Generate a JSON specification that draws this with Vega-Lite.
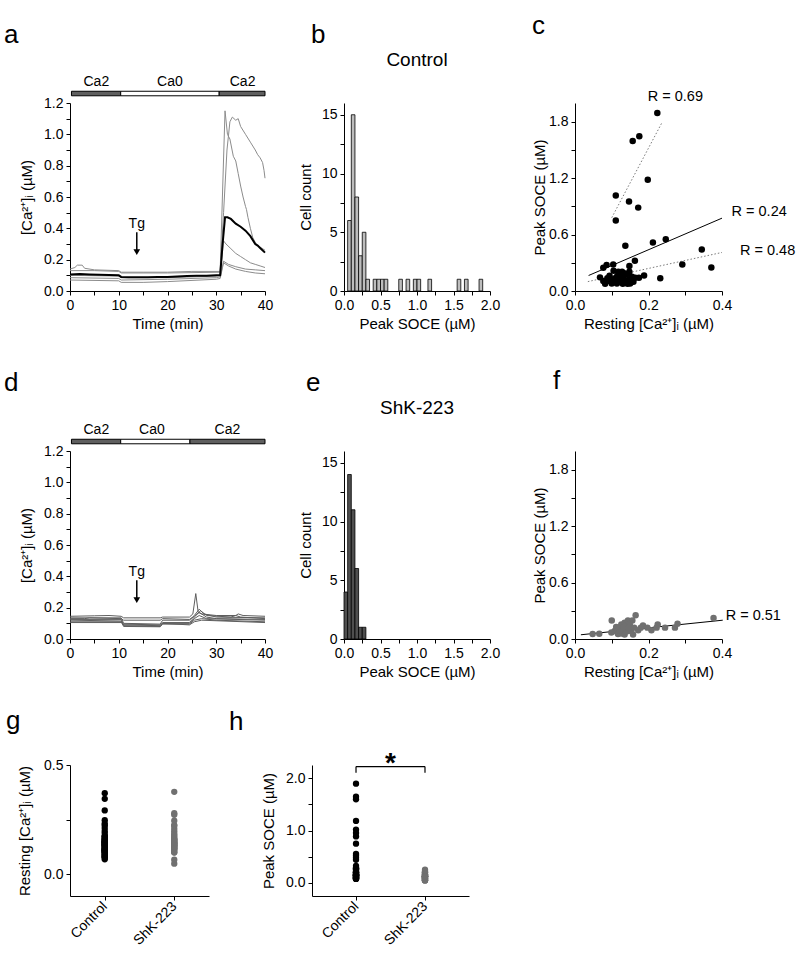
{
  "$schema": "https://vega.github.io/schema/vega-lite/v6.json",
  "padding": {"left": 4, "top": 13, "right": 0, "bottom": 0},
  "background": "#ffffff",
  "config": {
    "view": {"stroke": null},
    "font": "Liberation Sans",
    "axis": {"domainColor": "#000000", "tickColor": "#000000", "labelColor": "#000000", "titleColor": "#000000", "labelFont": "Liberation Sans", "titleFont": "Liberation Sans", "labelFontSize": 14, "titleFontSize": 15, "titleFontWeight": "normal", "grid": false, "tickSize": 4, "labelPadding": 3, "titlePadding": 4, "labelOverlap": false, "labelFlush": false, "domainWidth": 1, "tickWidth": 1},
    "title": {"font": "Liberation Sans", "fontSize": 26, "fontWeight": "normal", "anchor": "start", "frame": "group", "color": "#000000", "baseline": "alphabetic"},
    "text": {"font": "Liberation Sans", "color": "#000000"}
  },
  "datasets": {
    "tracesA": [
      {"tr":"mean","t":0,"v":0.105},{"tr":"mean","t":2,"v":0.108},{"tr":"mean","t":4,"v":0.105},{"tr":"mean","t":6,"v":0.103},{"tr":"mean","t":8,"v":0.102},{"tr":"mean","t":10,"v":0.1},{"tr":"mean","t":10.5,"v":0.09},{"tr":"mean","t":12,"v":0.088},{"tr":"mean","t":14,"v":0.088},{"tr":"mean","t":16,"v":0.087},{"tr":"mean","t":18,"v":0.089},{"tr":"mean","t":20,"v":0.09},{"tr":"mean","t":22,"v":0.093},{"tr":"mean","t":24,"v":0.095},{"tr":"mean","t":26,"v":0.097},{"tr":"mean","t":28,"v":0.098},{"tr":"mean","t":30,"v":0.1},{"tr":"mean","t":30.8,"v":0.1},{"tr":"mean","t":31.3,"v":0.3},{"tr":"mean","t":31.8,"v":0.47},{"tr":"mean","t":32.3,"v":0.47},{"tr":"mean","t":33,"v":0.46},{"tr":"mean","t":34,"v":0.43},{"tr":"mean","t":35,"v":0.41},{"tr":"mean","t":36,"v":0.385},{"tr":"mean","t":37,"v":0.35},{"tr":"mean","t":38,"v":0.3},{"tr":"mean","t":38.5,"v":0.29},{"tr":"mean","t":39,"v":0.275},{"tr":"mean","t":40,"v":0.245},
      {"tr":"g1","t":0,"v":0.14},{"tr":"g1","t":1,"v":0.15},{"tr":"g1","t":1.5,"v":0.165},{"tr":"g1","t":2.5,"v":0.165},{"tr":"g1","t":3,"v":0.145},{"tr":"g1","t":5,"v":0.135},{"tr":"g1","t":10,"v":0.13},{"tr":"g1","t":10.5,"v":0.12},{"tr":"g1","t":15,"v":0.12},{"tr":"g1","t":20,"v":0.12},{"tr":"g1","t":25,"v":0.125},{"tr":"g1","t":30.8,"v":0.125},{"tr":"g1","t":31.8,"v":1.15},{"tr":"g1","t":32.3,"v":1.0},{"tr":"g1","t":32.8,"v":0.97},{"tr":"g1","t":33.5,"v":0.86},{"tr":"g1","t":34,"v":0.83},{"tr":"g1","t":34.5,"v":0.75},{"tr":"g1","t":35,"v":0.67},{"tr":"g1","t":35.5,"v":0.6},{"tr":"g1","t":36,"v":0.54},{"tr":"g1","t":36.2,"v":0.52},{"tr":"g1","t":36.5,"v":0.47},{"tr":"g1","t":37,"v":0.4},{"tr":"g1","t":37.5,"v":0.34},{"tr":"g1","t":38,"v":0.31},{"tr":"g1","t":38.5,"v":0.29},{"tr":"g1","t":39,"v":0.28},{"tr":"g1","t":40,"v":0.26},
      {"tr":"g2","t":0,"v":0.13},{"tr":"g2","t":5,"v":0.13},{"tr":"g2","t":10,"v":0.125},{"tr":"g2","t":10.5,"v":0.115},{"tr":"g2","t":20,"v":0.115},{"tr":"g2","t":30.8,"v":0.12},{"tr":"g2","t":31.5,"v":0.5},{"tr":"g2","t":32.2,"v":0.9},{"tr":"g2","t":32.8,"v":1.08},{"tr":"g2","t":33.3,"v":1.11},{"tr":"g2","t":34,"v":1.09},{"tr":"g2","t":34.5,"v":1.1},{"tr":"g2","t":35,"v":1.05},{"tr":"g2","t":36,"v":1.0},{"tr":"g2","t":37,"v":0.95},{"tr":"g2","t":38,"v":0.9},{"tr":"g2","t":38.5,"v":0.87},{"tr":"g2","t":39,"v":0.85},{"tr":"g2","t":39.5,"v":0.82},{"tr":"g2","t":39.8,"v":0.77},{"tr":"g2","t":40,"v":0.72},
      {"tr":"g3","t":0,"v":0.1},{"tr":"g3","t":10,"v":0.095},{"tr":"g3","t":10.5,"v":0.085},{"tr":"g3","t":20,"v":0.085},{"tr":"g3","t":30,"v":0.095},{"tr":"g3","t":30.8,"v":0.1},{"tr":"g3","t":31.5,"v":0.32},{"tr":"g3","t":32,"v":0.3},{"tr":"g3","t":33,"v":0.27},{"tr":"g3","t":34,"v":0.24},{"tr":"g3","t":35,"v":0.22},{"tr":"g3","t":36,"v":0.2},{"tr":"g3","t":37,"v":0.18},{"tr":"g3","t":38,"v":0.17},{"tr":"g3","t":39,"v":0.16},{"tr":"g3","t":40,"v":0.15},
      {"tr":"g4","t":0,"v":0.085},{"tr":"g4","t":10,"v":0.08},{"tr":"g4","t":10.5,"v":0.07},{"tr":"g4","t":20,"v":0.075},{"tr":"g4","t":30,"v":0.085},{"tr":"g4","t":30.8,"v":0.09},{"tr":"g4","t":31.5,"v":0.19},{"tr":"g4","t":32.5,"v":0.17},{"tr":"g4","t":34,"v":0.155},{"tr":"g4","t":36,"v":0.14},{"tr":"g4","t":38,"v":0.135},{"tr":"g4","t":40,"v":0.13},
      {"tr":"g5","t":0,"v":0.07},{"tr":"g5","t":10,"v":0.065},{"tr":"g5","t":10.5,"v":0.055},{"tr":"g5","t":15,"v":0.055},{"tr":"g5","t":20,"v":0.06},{"tr":"g5","t":30,"v":0.075},{"tr":"g5","t":30.8,"v":0.08},{"tr":"g5","t":31.5,"v":0.18},{"tr":"g5","t":32.5,"v":0.16},{"tr":"g5","t":34,"v":0.14},{"tr":"g5","t":36,"v":0.125},{"tr":"g5","t":38,"v":0.115},{"tr":"g5","t":40,"v":0.11}
    ],
    "tracesD": [
      {"tr":"d1","t":0,"v":0.145},{"tr":"d1","t":5,"v":0.148},{"tr":"d1","t":8,"v":0.15},{"tr":"d1","t":10.5,"v":0.145},{"tr":"d1","t":11,"v":0.135},{"tr":"d1","t":18.5,"v":0.135},{"tr":"d1","t":19,"v":0.14},{"tr":"d1","t":24.5,"v":0.14},{"tr":"d1","t":25.2,"v":0.16},{"tr":"d1","t":25.8,"v":0.29},{"tr":"d1","t":26.3,"v":0.17},{"tr":"d1","t":27,"v":0.16},{"tr":"d1","t":30,"v":0.15},{"tr":"d1","t":34,"v":0.15},{"tr":"d1","t":34.5,"v":0.16},{"tr":"d1","t":35.5,"v":0.15},{"tr":"d1","t":40,"v":0.145},
      {"tr":"d2","t":0,"v":0.135},{"tr":"d2","t":10.5,"v":0.135},{"tr":"d2","t":11,"v":0.1},{"tr":"d2","t":18.5,"v":0.095},{"tr":"d2","t":19,"v":0.12},{"tr":"d2","t":24.5,"v":0.12},{"tr":"d2","t":25.5,"v":0.15},{"tr":"d2","t":26.5,"v":0.19},{"tr":"d2","t":27.5,"v":0.16},{"tr":"d2","t":30,"v":0.14},{"tr":"d2","t":40,"v":0.135},
      {"tr":"d3","t":0,"v":0.125},{"tr":"d3","t":10.5,"v":0.125},{"tr":"d3","t":11,"v":0.09},{"tr":"d3","t":18.5,"v":0.085},{"tr":"d3","t":19,"v":0.105},{"tr":"d3","t":24.5,"v":0.105},{"tr":"d3","t":25.5,"v":0.14},{"tr":"d3","t":26.5,"v":0.17},{"tr":"d3","t":28,"v":0.14},{"tr":"d3","t":30,"v":0.13},{"tr":"d3","t":40,"v":0.125},
      {"tr":"d4","t":0,"v":0.12},{"tr":"d4","t":10.5,"v":0.115},{"tr":"d4","t":11,"v":0.085},{"tr":"d4","t":18.5,"v":0.08},{"tr":"d4","t":19,"v":0.1},{"tr":"d4","t":24.5,"v":0.1},{"tr":"d4","t":25.5,"v":0.13},{"tr":"d4","t":26.5,"v":0.15},{"tr":"d4","t":28,"v":0.13},{"tr":"d4","t":40,"v":0.12},
      {"tr":"d5","t":0,"v":0.11},{"tr":"d5","t":10.5,"v":0.11},{"tr":"d5","t":11,"v":0.08},{"tr":"d5","t":18.5,"v":0.078},{"tr":"d5","t":19,"v":0.095},{"tr":"d5","t":24.5,"v":0.095},{"tr":"d5","t":25.5,"v":0.12},{"tr":"d5","t":27,"v":0.13},{"tr":"d5","t":30,"v":0.12},{"tr":"d5","t":40,"v":0.11},
      {"tr":"d6","t":0,"v":0.105},{"tr":"d6","t":10.5,"v":0.105},{"tr":"d6","t":11,"v":0.095},{"tr":"d6","t":18.5,"v":0.09},{"tr":"d6","t":19,"v":0.1},{"tr":"d6","t":24.5,"v":0.09},{"tr":"d6","t":25.5,"v":0.11},{"tr":"d6","t":27,"v":0.12},{"tr":"d6","t":40,"v":0.105},
      {"tr":"d7","t":0,"v":0.13},{"tr":"d7","t":3,"v":0.13},{"tr":"d7","t":4,"v":0.135},{"tr":"d7","t":10.5,"v":0.13},{"tr":"d7","t":11,"v":0.12},{"tr":"d7","t":18.5,"v":0.12},{"tr":"d7","t":19,"v":0.13},{"tr":"d7","t":24.5,"v":0.125},{"tr":"d7","t":25.5,"v":0.145},{"tr":"d7","t":26.8,"v":0.18},{"tr":"d7","t":28,"v":0.15},{"tr":"d7","t":33,"v":0.14},{"tr":"d7","t":34,"v":0.15},{"tr":"d7","t":35,"v":0.14},{"tr":"d7","t":40,"v":0.13}
    ],
    "caA": [{"sol":"Ca2","s":0.3,"e":10.4},{"sol":"Ca0","s":10.4,"e":30.6},{"sol":"Ca2","s":30.6,"e":40}],
    "caLabA": [{"lab":"Ca2","t":5.4},{"lab":"Ca0","t":20.5},{"lab":"Ca2","t":35.4}],
    "caD": [{"sol":"Ca2","s":0.3,"e":10.4},{"sol":"Ca0","s":10.4,"e":24.6},{"sol":"Ca2","s":24.6,"e":40}],
    "caLabD": [{"lab":"Ca2","t":5.4},{"lab":"Ca0","t":16.8},{"lab":"Ca2","t":32.3}],
    "tg": [{"lab":"Tg","t":13.7}],
    "histB": [
      {"b0":0.05,"b1":0.1,"n":6},{"b0":0.1,"b1":0.15,"n":15},{"b0":0.15,"b1":0.2,"n":8},{"b0":0.2,"b1":0.25,"n":3},{"b0":0.25,"b1":0.3,"n":5},{"b0":0.3,"b1":0.35,"n":1},{"b0":0.4,"b1":0.45,"n":1},{"b0":0.45,"b1":0.5,"n":1},{"b0":0.5,"b1":0.55,"n":1},{"b0":0.55,"b1":0.6,"n":1},{"b0":0.75,"b1":0.8,"n":1},{"b0":0.85,"b1":0.9,"n":1},{"b0":0.95,"b1":1.0,"n":1},{"b0":1.0,"b1":1.05,"n":1},{"b0":1.15,"b1":1.2,"n":1},{"b0":1.55,"b1":1.6,"n":1},{"b0":1.65,"b1":1.7,"n":1},{"b0":1.85,"b1":1.9,"n":1}
    ],
    "histE": [
      {"b0":0,"b1":0.05,"n":4},{"b0":0.05,"b1":0.1,"n":14},{"b0":0.1,"b1":0.15,"n":11},{"b0":0.15,"b1":0.2,"n":6},{"b0":0.2,"b1":0.25,"n":1},{"b0":0.25,"b1":0.3,"n":1}
    ],
    "ttlB": [{"lab":"Control"}],
    "ttlE": [{"lab":"ShK-223"}],
    "cells": [
      {"grp":"Control","rest":0.224,"peak":1.893},{"grp":"Control","rest":0.157,"peak":1.596},{"grp":"Control","rest":0.175,"peak":1.646},{"grp":"Control","rest":0.198,"peak":1.183},{"grp":"Control","rest":0.111,"peak":1.017},{"grp":"Control","rest":0.147,"peak":0.953},{"grp":"Control","rest":0.172,"peak":0.887},{"grp":"Control","rest":0.111,"peak":0.749},{"grp":"Control","rest":0.137,"peak":0.481},{"grp":"Control","rest":0.212,"peak":0.516},
      {"grp":"Control","rest":0.247,"peak":0.551},{"grp":"Control","rest":0.345,"peak":0.442},{"grp":"Control","rest":0.292,"peak":0.283},{"grp":"Control","rest":0.371,"peak":0.251},{"grp":"Control","rest":0.232,"peak":0.135},{"grp":"Control","rest":0.163,"peak":0.322},{"grp":"Control","rest":0.104,"peak":0.283},{"grp":"Control","rest":0.086,"peak":0.276},{"grp":"Control","rest":0.077,"peak":0.248},{"grp":"Control","rest":0.148,"peak":0.265},
      {"grp":"Control","rest":0.148,"peak":0.205},{"grp":"Control","rest":0.188,"peak":0.166},{"grp":"Control","rest":0.174,"peak":0.142},{"grp":"Control","rest":0.068,"peak":0.145},{"grp":"Control","rest":0.077,"peak":0.106},{"grp":"Control","rest":0.082,"peak":0.078},{"grp":"Control","rest":0.094,"peak":0.163},{"grp":"Control","rest":0.094,"peak":0.106},{"grp":"Control","rest":0.105,"peak":0.216},{"grp":"Control","rest":0.109,"peak":0.135},
      {"grp":"Control","rest":0.114,"peak":0.081},{"grp":"Control","rest":0.121,"peak":0.17},{"grp":"Control","rest":0.123,"peak":0.117},{"grp":"Control","rest":0.128,"peak":0.205},{"grp":"Control","rest":0.132,"peak":0.141},{"grp":"Control","rest":0.136,"peak":0.099},{"grp":"Control","rest":0.141,"peak":0.177},{"grp":"Control","rest":0.145,"peak":0.117},{"grp":"Control","rest":0.15,"peak":0.081},{"grp":"Control","rest":0.155,"peak":0.152},
      {"grp":"Control","rest":0.159,"peak":0.099},{"grp":"Control","rest":0.1,"peak":0.081},{"grp":"Control","rest":0.13,"peak":0.078},{"grp":"Control","rest":0.118,"peak":0.205},{"grp":"Control","rest":0.088,"peak":0.135},{"grp":"Control","rest":0.134,"peak":0.188},{"grp":"Control","rest":0.143,"peak":0.078},{"grp":"Control","rest":0.103,"peak":0.117},{"grp":"Control","rest":0.164,"peak":0.141},{"grp":"Control","rest":0.115,"peak":0.159},
      {"grp":"ShK-223","rest":0.048,"peak":0.052},{"grp":"ShK-223","rest":0.066,"peak":0.057},{"grp":"ShK-223","rest":0.1,"peak":0.197},{"grp":"ShK-223","rest":0.117,"peak":0.121},{"grp":"ShK-223","rest":0.126,"peak":0.155},{"grp":"ShK-223","rest":0.135,"peak":0.172},{"grp":"ShK-223","rest":0.14,"peak":0.128},{"grp":"ShK-223","rest":0.144,"peak":0.197},{"grp":"ShK-223","rest":0.153,"peak":0.086},{"grp":"ShK-223","rest":0.156,"peak":0.197},
      {"grp":"ShK-223","rest":0.165,"peak":0.252},{"grp":"ShK-223","rest":0.149,"peak":0.155},{"grp":"ShK-223","rest":0.172,"peak":0.093},{"grp":"ShK-223","rest":0.185,"peak":0.145},{"grp":"ShK-223","rest":0.197,"peak":0.121},{"grp":"ShK-223","rest":0.208,"peak":0.093},{"grp":"ShK-223","rest":0.222,"peak":0.121},{"grp":"ShK-223","rest":0.225,"peak":0.155},{"grp":"ShK-223","rest":0.245,"peak":0.121},{"grp":"ShK-223","rest":0.272,"peak":0.121},
      {"grp":"ShK-223","rest":0.279,"peak":0.162},{"grp":"ShK-223","rest":0.377,"peak":0.224},{"grp":"ShK-223","rest":0.108,"peak":0.086},{"grp":"ShK-223","rest":0.117,"peak":0.052},{"grp":"ShK-223","rest":0.126,"peak":0.059},{"grp":"ShK-223","rest":0.13,"peak":0.103},{"grp":"ShK-223","rest":0.135,"peak":0.048},{"grp":"ShK-223","rest":0.142,"peak":0.083},{"grp":"ShK-223","rest":0.121,"peak":0.093},{"grp":"ShK-223","rest":0.112,"peak":0.128},
      {"grp":"ShK-223","rest":0.133,"peak":0.128},{"grp":"ShK-223","rest":0.146,"peak":0.121},{"grp":"ShK-223","rest":0.161,"peak":0.121},{"grp":"ShK-223","rest":0.099,"peak":0.069},{"grp":"ShK-223","rest":0.158,"peak":0.048},{"grp":"ShK-223","rest":0.179,"peak":0.121}
    ],
    "fitsC": [
      {"fit":"R = 0.69","x":0.1,"y":0.78},{"fit":"R = 0.69","x":0.236,"y":1.787},
      {"fit":"R = 0.24","x":0.037,"y":0.165},{"fit":"R = 0.24","x":0.4,"y":0.775},
      {"fit":"R = 0.48","x":0.035,"y":0.1},{"fit":"R = 0.48","x":0.4,"y":0.41}
    ],
    "rlabC": [{"lab":"R = 0.69","x":0.198,"y":2.06},{"lab":"R = 0.24","x":0.426,"y":0.837},{"lab":"R = 0.48","x":0.449,"y":0.429}],
    "fitsF": [{"fit":"R = 0.51","x":0.016,"y":0.045},{"fit":"R = 0.51","x":0.402,"y":0.2}],
    "rlabF": [{"lab":"R = 0.51","x":0.41,"y":0.24}],
    "brk": [{"a":"Control","b":"ShK-223"}],
    "brkEnds": [{"grp":"Control"},{"grp":"ShK-223"}],
    "star": [{"grp":"Control","lab":"*"}]
  },
  "bounds": "flush",
  "spacing": 348,
  "vconcat": [
    {
      "bounds": "flush",
      "spacing": 79,
      "hconcat": [
        {
          "width": 195, "height": 188,
          "title": {"text": "a", "dx": -66, "offset": 27},
          "layer": [
            {"data": {"name": "tracesA"}, "transform": [{"filter": "datum.tr != 'mean'"}],
             "mark": {"type": "line", "stroke": "#8c8c8c", "strokeWidth": 1},
             "encoding": {
               "x": {"field": "t", "type": "quantitative", "scale": {"domain": [0, 40], "nice": false, "zero": false}, "axis": {"values": [0,5,10,15,20,25,30,35,40], "tickCount": 50, "labelExpr": "datum.value % 10 == 0 ? format(datum.value, 'd') : ''", "title": "Time (min)"}},
               "y": {"field": "v", "type": "quantitative", "scale": {"domain": [0, 1.2], "nice": false}, "axis": {"values": [0,0.1,0.2,0.3,0.4,0.5,0.6,0.7,0.8,0.9,1,1.1,1.2], "tickCount": 50, "labelExpr": "round(datum.value*10) % 2 == 0 ? format(datum.value, '.1f') : ''", "titlePadding": 9, "title": "[Ca²⁺]ᵢ (µM)"}},
               "detail": {"field": "tr", "type": "nominal"}
             }},
            {"data": {"name": "tracesA"}, "transform": [{"filter": "datum.tr == 'mean'"}],
             "mark": {"type": "line", "stroke": "#000000", "strokeWidth": 2},
             "encoding": {"x": {"field": "t", "type": "quantitative"}, "y": {"field": "v", "type": "quantitative"}}},
            {"data": {"name": "caA"},
             "mark": {"type": "rect", "stroke": "#000000", "strokeWidth": 1},
             "encoding": {"x": {"field": "s", "type": "quantitative"}, "x2": {"field": "e"}, "y": {"datum": 1.246}, "y2": {"datum": 1.275}, "fill": {"condition": {"test": "datum.sol == 'Ca0'", "value": "#ffffff"}, "value": "#5f5f5f"}}},
            {"data": {"name": "caLabA"},
             "mark": {"type": "text", "fontSize": 14, "baseline": "middle"},
             "encoding": {"x": {"field": "t", "type": "quantitative"}, "y": {"datum": 1.335}, "text": {"field": "lab"}}},
            {"data": {"name": "tg"},
             "mark": {"type": "text", "fontSize": 14, "baseline": "middle"},
             "encoding": {"x": {"field": "t", "type": "quantitative"}, "y": {"datum": 0.43}, "text": {"field": "lab"}}},
            {"data": {"name": "tg"},
             "mark": {"type": "rule", "strokeWidth": 1.5, "color": "#000000"},
             "encoding": {"x": {"field": "t", "type": "quantitative"}, "y": {"datum": 0.375}, "y2": {"datum": 0.26}}},
            {"data": {"name": "tg"},
             "mark": {"type": "point", "shape": "triangle-down", "filled": true, "color": "#000000", "size": 45, "opacity": 1},
             "encoding": {"x": {"field": "t", "type": "quantitative"}, "y": {"datum": 0.248}}}
          ]
        },
        {
          "bounds": "flush",
          "spacing": 85,
          "hconcat": [
            {
              "width": 146, "height": 188,
              "title": {"text": "b", "dx": -33, "offset": 3},
              "layer": [
                {"data": {"name": "histB"},
                 "mark": {"type": "rect", "fill": "#bdbdbd", "stroke": "#000000", "strokeWidth": 0.8},
                 "encoding": {
                   "x": {"field": "b0", "type": "quantitative", "scale": {"domain": [0, 2], "nice": false}, "axis": {"values": [0,0.25,0.5,0.75,1,1.25,1.5,1.75,2], "tickCount": 50, "labelExpr": "round(datum.value*4) % 2 == 0 ? format(datum.value, '.1f') : ''", "title": "Peak SOCE (µM)"}},
                   "x2": {"field": "b1"},
                   "y": {"field": "n", "type": "quantitative", "scale": {"domain": [0, 16], "nice": false}, "axis": {"values": [0,2.5,5,7.5,10,12.5,15], "tickCount": 50, "labelExpr": "datum.value % 5 == 0 ? format(datum.value, 'd') : ''", "titlePadding": 8, "title": "Cell count"}},
                   "y2": {"datum": 0}
                 }},
                {"data": {"name": "ttlB"},
                 "mark": {"type": "text", "fontSize": 19, "baseline": "middle"},
                 "encoding": {"x": {"datum": 1}, "y": {"datum": 19.66}, "text": {"field": "lab"}}}
              ]
            },
            {
              "width": 147, "height": 188,
              "title": {"text": "c", "dx": -43, "offset": 50},
              "layer": [
                {"data": {"name": "fitsC"}, "transform": [{"filter": "datum.fit != 'R = 0.24'"}],
                 "mark": {"type": "line", "stroke": "#7a7a7a", "strokeWidth": 1, "strokeDash": [1.5, 2]},
                 "encoding": {
                   "x": {"field": "x", "type": "quantitative", "scale": {"domain": [0, 0.4], "nice": false}, "axis": {"values": [0,0.1,0.2,0.3,0.4], "tickCount": 50, "labelExpr": "round(datum.value*10) % 2 == 0 ? format(datum.value, '.1f') : ''", "title": "Resting [Ca²⁺]ᵢ (µM)"}},
                   "y": {"field": "y", "type": "quantitative", "scale": {"domain": [0, 2], "nice": false}, "axis": {"values": [0,0.3,0.6,0.9,1.2,1.5,1.8], "tickCount": 50, "labelExpr": "round(datum.value*10) % 6 == 0 ? format(datum.value, '.1f') : ''", "titlePadding": 1, "title": "Peak SOCE (µM)"}},
                   "detail": {"field": "fit", "type": "nominal"}
                 }},
                {"data": {"name": "fitsC"}, "transform": [{"filter": "datum.fit == 'R = 0.24'"}],
                 "mark": {"type": "line", "stroke": "#000000", "strokeWidth": 1},
                 "encoding": {"x": {"field": "x", "type": "quantitative"}, "y": {"field": "y", "type": "quantitative"}}},
                {"data": {"name": "cells"}, "transform": [{"filter": "datum.grp == 'Control'"}],
                 "mark": {"type": "circle", "size": 42, "color": "#000000", "opacity": 1},
                 "encoding": {"x": {"field": "rest", "type": "quantitative", "title": "Resting [Ca²⁺]ᵢ (µM)"}, "y": {"field": "peak", "type": "quantitative", "title": "Peak SOCE (µM)"}}},
                {"data": {"name": "rlabC"},
                 "mark": {"type": "text", "fontSize": 14.5, "align": "left", "baseline": "middle"},
                 "encoding": {"x": {"field": "x", "type": "quantitative"}, "y": {"field": "y", "type": "quantitative"}, "text": {"field": "lab"}}}
              ]
            }
          ]
        }
      ]
    },
    {
      "bounds": "flush",
      "spacing": 314,
      "vconcat": [
        {
          "bounds": "flush",
          "spacing": 79,
          "hconcat": [
            {
              "width": 195, "height": 188,
              "title": {"text": "d", "dx": -66, "offset": 27},
              "layer": [
                {"data": {"name": "tracesD"},
                 "mark": {"type": "line", "stroke": "#5e5e5e", "strokeWidth": 1},
                 "encoding": {
                   "x": {"field": "t", "type": "quantitative", "scale": {"domain": [0, 40], "nice": false, "zero": false}, "axis": {"values": [0,5,10,15,20,25,30,35,40], "tickCount": 50, "labelExpr": "datum.value % 10 == 0 ? format(datum.value, 'd') : ''", "title": "Time (min)"}},
                   "y": {"field": "v", "type": "quantitative", "scale": {"domain": [0, 1.2], "nice": false}, "axis": {"values": [0,0.1,0.2,0.3,0.4,0.5,0.6,0.7,0.8,0.9,1,1.1,1.2], "tickCount": 50, "labelExpr": "round(datum.value*10) % 2 == 0 ? format(datum.value, '.1f') : ''", "titlePadding": 9, "title": "[Ca²⁺]ᵢ (µM)"}},
                   "detail": {"field": "tr", "type": "nominal"}
                 }},
                {"data": {"name": "caD"},
                 "mark": {"type": "rect", "stroke": "#000000", "strokeWidth": 1},
                 "encoding": {"x": {"field": "s", "type": "quantitative"}, "x2": {"field": "e"}, "y": {"datum": 1.246}, "y2": {"datum": 1.275}, "fill": {"condition": {"test": "datum.sol == 'Ca0'", "value": "#ffffff"}, "value": "#5f5f5f"}}},
                {"data": {"name": "caLabD"},
                 "mark": {"type": "text", "fontSize": 14, "baseline": "middle"},
                 "encoding": {"x": {"field": "t", "type": "quantitative"}, "y": {"datum": 1.335}, "text": {"field": "lab"}}},
                {"data": {"name": "tg"},
                 "mark": {"type": "text", "fontSize": 14, "baseline": "middle"},
                 "encoding": {"x": {"field": "t", "type": "quantitative"}, "y": {"datum": 0.43}, "text": {"field": "lab"}}},
                {"data": {"name": "tg"},
                 "mark": {"type": "rule", "strokeWidth": 1.5, "color": "#000000"},
                 "encoding": {"x": {"field": "t", "type": "quantitative"}, "y": {"datum": 0.375}, "y2": {"datum": 0.26}}},
                {"data": {"name": "tg"},
                 "mark": {"type": "point", "shape": "triangle-down", "filled": true, "color": "#000000", "size": 45, "opacity": 1},
                 "encoding": {"x": {"field": "t", "type": "quantitative"}, "y": {"datum": 0.248}}}
              ]
            },
            {
              "bounds": "flush",
              "spacing": 85,
              "hconcat": [
                {
                  "width": 146, "height": 188,
                  "title": {"text": "e", "dx": -38, "offset": 3},
                  "layer": [
                    {"data": {"name": "histE"},
                     "mark": {"type": "rect", "fill": "#4f4f4f", "stroke": "#000000", "strokeWidth": 0.8},
                     "encoding": {
                       "x": {"field": "b0", "type": "quantitative", "scale": {"domain": [0, 2], "nice": false}, "axis": {"values": [0,0.25,0.5,0.75,1,1.25,1.5,1.75,2], "tickCount": 50, "labelExpr": "round(datum.value*4) % 2 == 0 ? format(datum.value, '.1f') : ''", "title": "Peak SOCE (µM)"}},
                       "x2": {"field": "b1"},
                       "y": {"field": "n", "type": "quantitative", "scale": {"domain": [0, 16], "nice": false}, "axis": {"values": [0,2.5,5,7.5,10,12.5,15], "tickCount": 50, "labelExpr": "datum.value % 5 == 0 ? format(datum.value, 'd') : ''", "titlePadding": 8, "title": "Cell count"}},
                       "y2": {"datum": 0}
                     }},
                    {"data": {"name": "ttlE"},
                     "mark": {"type": "text", "fontSize": 19, "baseline": "middle"},
                     "encoding": {"x": {"datum": 1}, "y": {"datum": 19.66}, "text": {"field": "lab"}}}
                  ]
                },
                {
                  "width": 147, "height": 188,
                  "title": {"text": "f", "dx": -22, "offset": 57},
                  "layer": [
                    {"data": {"name": "fitsF"},
                     "mark": {"type": "line", "stroke": "#000000", "strokeWidth": 1},
                     "encoding": {
                       "x": {"field": "x", "type": "quantitative", "scale": {"domain": [0, 0.4], "nice": false}, "axis": {"values": [0,0.1,0.2,0.3,0.4], "tickCount": 50, "labelExpr": "round(datum.value*10) % 2 == 0 ? format(datum.value, '.1f') : ''", "title": "Resting [Ca²⁺]ᵢ (µM)"}},
                       "y": {"field": "y", "type": "quantitative", "scale": {"domain": [0, 2], "nice": false}, "axis": {"values": [0,0.3,0.6,0.9,1.2,1.5,1.8], "tickCount": 50, "labelExpr": "round(datum.value*10) % 6 == 0 ? format(datum.value, '.1f') : ''", "titlePadding": 1, "title": "Peak SOCE (µM)"}}
                     }},
                    {"data": {"name": "cells"}, "transform": [{"filter": "datum.grp == 'ShK-223'"}],
                     "mark": {"type": "circle", "size": 42, "color": "#707070", "opacity": 1},
                     "encoding": {"x": {"field": "rest", "type": "quantitative", "title": "Resting [Ca²⁺]ᵢ (µM)"}, "y": {"field": "peak", "type": "quantitative", "title": "Peak SOCE (µM)"}}},
                    {"data": {"name": "rlabF"},
                     "mark": {"type": "text", "fontSize": 14.5, "align": "left", "baseline": "middle"},
                     "encoding": {"x": {"field": "x", "type": "quantitative"}, "y": {"field": "y", "type": "quantitative"}, "text": {"field": "lab"}}}
                  ]
                }
              ]
            }
          ]
        },
        {
          "bounds": "flush",
          "spacing": 103,
          "hconcat": [
            {
              "width": 139, "height": 131,
              "title": {"text": "g", "dx": -64, "offset": 24},
              "data": {"name": "cells"},
              "mark": {"type": "circle", "size": 40, "opacity": 1},
              "encoding": {
                "x": {"field": "grp", "type": "nominal", "scale": {"type": "point", "padding": 0.5, "domain": ["Control", "ShK-223"]}, "axis": {"title": null, "labelAngle": -45, "labelAlign": "right", "labelBaseline": "middle", "labelPadding": 4}},
                "y": {"field": "rest", "type": "quantitative", "scale": {"domain": [-0.1, 0.5], "nice": false, "zero": false}, "axis": {"values": [0, 0.25, 0.5], "tickCount": 50, "labelExpr": "datum.value == 0.25 ? '' : format(datum.value, '.1f')", "titlePadding": 11, "title": "Resting [Ca²⁺]ᵢ (µM)"}},
                "color": {"condition": {"test": "datum.grp == 'Control'", "value": "#000000"}, "value": "#707070"}
              }
            },
            {
              "width": 157, "height": 131,
              "title": {"text": "h", "dx": -83, "offset": 15},
              "layer": [
                {"data": {"name": "cells"},
                 "mark": {"type": "circle", "size": 40, "opacity": 1},
                 "encoding": {
                   "x": {"field": "grp", "type": "nominal", "scale": {"type": "point", "padding": 0.638, "domain": ["Control", "ShK-223"]}, "axis": {"title": null, "labelAngle": -45, "labelAlign": "right", "labelBaseline": "middle", "labelPadding": 4}},
                   "y": {"field": "peak", "type": "quantitative", "scale": {"domain": [-0.25, 2.25], "nice": false, "zero": false}, "axis": {"values": [0, 0.5, 1, 1.5, 2], "tickCount": 50, "labelExpr": "datum.value % 1 == 0 ? format(datum.value, '.1f') : ''", "titlePadding": 9, "title": "Peak SOCE (µM)"}},
                   "color": {"condition": {"test": "datum.grp == 'Control'", "value": "#000000"}, "value": "#707070"}
                 }},
                {"data": {"name": "brk"},
                 "mark": {"type": "rule", "color": "#000000", "strokeWidth": 1.2},
                 "encoding": {"x": {"field": "a", "type": "nominal", "title": null}, "x2": {"field": "b"}, "y": {"datum": 2.22}}},
                {"data": {"name": "brkEnds"},
                 "mark": {"type": "rule", "color": "#000000", "strokeWidth": 1.2},
                 "encoding": {"x": {"field": "grp", "type": "nominal", "title": null}, "y": {"datum": 2.1}, "y2": {"datum": 2.22}}},
                {"data": {"name": "star"},
                 "mark": {"type": "text", "fontSize": 28, "fontWeight": "bold", "dx": 34.5, "baseline": "alphabetic"},
                 "encoding": {"x": {"field": "grp", "type": "nominal", "title": null}, "y": {"datum": 2.11}, "text": {"field": "lab"}}}
              ]
            }
          ]
        }
      ]
    }
  ]
}
